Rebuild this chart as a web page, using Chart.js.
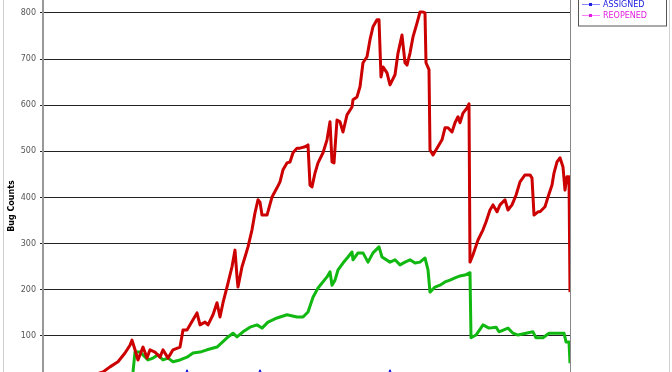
<html>
<head>
	<title>Bug Counts</title>
	<script src="https://cdn.jsdelivr.net/npm/chart.js"></script>
	<style>body { margin: 0; background: #fff; }</style>
</head>
<body>
	<canvas id="chart" width="672" height="372"></canvas>
	<script>
		// day index (from the first day on the chart) and counts
		const newDays = [0, 30, 50, 60, 67, 75, 82, 87, 89, 92, 95, 100, 104, 107, 112, 117, 120, 125, 130, 137, 140, 144, 154, 157, 162, 165, 170, 174, 177, 180, 184, 189, 192, 194, 195, 199, 202, 205, 209, 212, 215, 217, 219, 224, 229, 234, 237, 240, 244, 247, 250, 254, 257, 262, 265, 267, 269, 272, 275, 280, 284, 287, 289, 291, 294, 297, 300, 304, 309, 310, 314, 317, 320, 324, 327, 330, 334, 336, 338, 340, 344, 347, 352, 355, 359, 362, 364, 367, 370, 374, 377, 380, 382, 383, 386, 387, 390, 394, 399, 402, 405, 409, 412, 415, 417, 420, 424, 426, 427, 430, 435, 440, 443, 447, 450, 454, 457, 462, 465, 469, 473, 477, 482, 487, 489, 491, 495, 497, 502, 505, 509, 511, 514, 517, 520, 522, 524, 526, 527];
		const newCounts = [3, 8, 15, 22, 33, 44, 63, 80, 91, 70, 48, 76, 52, 70, 65, 54, 70, 52, 70, 76, 113, 113, 150, 124, 130, 124, 146, 172, 141, 172, 206, 250, 286, 228, 206, 250, 271, 293, 330, 367, 395, 390, 362, 362, 401, 421, 434, 460, 475, 477, 497, 507, 507, 510, 514, 427, 423, 453, 475, 497, 525, 564, 477, 475, 568, 564, 542, 579, 596, 612, 618, 640, 692, 705, 742, 770, 785, 785, 661, 683, 670, 644, 666, 713, 752, 692, 687, 713, 748, 778, 802, 802, 800, 692, 677, 503, 492, 507, 525, 551, 551, 542, 562, 575, 562, 583, 594, 603, 260, 276, 308, 330, 347, 373, 384, 369, 384, 395, 373, 384, 405, 434, 449, 449, 442, 362, 369, 369, 380, 401, 427, 453, 477, 486, 466, 416, 445, 445, 195];

		const unconfirmedDays = [0, 60, 89, 90, 92, 97, 100, 105, 110, 115, 120, 125, 130, 137, 144, 150, 157, 164, 174, 184, 190, 194, 200, 207, 214, 219, 225, 234, 244, 254, 260, 265, 270, 275, 284, 287, 289, 292, 295, 300, 305, 309, 310, 315, 320, 325, 330, 336, 339, 347, 352, 357, 362, 367, 372, 377, 382, 385, 387, 392, 397, 402, 407, 412, 417, 422, 427, 428, 433, 440, 446, 453, 456, 465, 470, 475, 483, 490, 493, 500, 506, 513, 521, 523, 526, 527];
		const unconfirmedCounts = [2, 4, 6, 22, 65, 65, 59, 48, 52, 59, 48, 52, 44, 48, 54, 63, 65, 70, 76, 96, 106, 98, 109, 119, 124, 117, 130, 139, 146, 141, 141, 152, 184, 204, 228, 239, 210, 221, 243, 258, 271, 282, 265, 280, 280, 260, 280, 293, 271, 260, 265, 254, 260, 265, 258, 260, 269, 243, 195, 206, 210, 217, 221, 226, 230, 232, 237, 96, 102, 124, 117, 119, 109, 117, 106, 102, 106, 109, 96, 96, 106, 106, 106, 87, 87, 41];

		const assignedDays = [0, 100, 143, 144, 145, 215, 216, 217, 218, 345, 346, 347, 348, 440, 527];
		const assignedCounts = [6, 12, 15, 25, 15, 16, 17, 25, 17, 16, 17, 25, 16, 14, 12];

		const reopenedDays = [0, 200, 400, 527];
		const reopenedCounts = [1, 3, 4, 2];

		const yTicks = [100, 200, 300, 400, 500, 600, 700, 800];

		function pairs(days, counts) {
			return days.map((d, i) => ({ x: d, y: counts[i] }));
		}

		// legend box, frame lines and the axis title
		const decorations = {
			id: 'decorations',
			afterDraw(chart) {
				const ctx = chart.ctx;
				const area = chart.chartArea;
				ctx.save();
				ctx.lineWidth = 1;
				ctx.strokeStyle = '#d0d0d0';
				ctx.beginPath();
				ctx.moveTo(3.5, 0); ctx.lineTo(3.5, 372);
				ctx.moveTo(669.5, 0); ctx.lineTo(669.5, 372);
				ctx.stroke();
				ctx.strokeStyle = '#888';
				ctx.beginPath();
				ctx.moveTo(Math.round(area.right) + 0.5, 0);
				ctx.lineTo(Math.round(area.right) + 0.5, 372);
				ctx.stroke();

				ctx.strokeStyle = '#555';
				ctx.strokeRect(578.5, -5, 88, 31);
				ctx.font = '8px "DejaVu Sans"';
				ctx.textBaseline = 'middle';
				const shown = chart.data.datasets.filter(ds => ds.legendText);
				shown.forEach((ds, i) => {
					const y = 4.5 + i * 11;
					ctx.strokeStyle = ds.legendLine;
					ctx.beginPath();
					ctx.moveTo(582, y); ctx.lineTo(600, y);
					ctx.stroke();
					ctx.fillStyle = ds.legendText;
					ctx.fillRect(589, y - 1.5, 3, 3);
					ctx.fillText(ds.label, 603, y + 0.5);
				});

				ctx.translate(12, 206);
				ctx.rotate(-Math.PI / 2);
				ctx.font = 'bold 8px "DejaVu Sans"';
				ctx.textAlign = 'center';
				ctx.fillStyle = '#000';
				ctx.fillText('Bug Counts', 0, 0);
				ctx.restore();
			}
		};

		new Chart(document.getElementById('chart'), {
			type: 'line',
			data: {
				datasets: [
					{ label: 'REOPENED', data: pairs(reopenedDays, reopenedCounts), borderColor: '#e020e0', borderWidth: 2, legendText: '#e020e0', legendLine: '#ff80ff' },
					{ label: 'ASSIGNED', data: pairs(assignedDays, assignedCounts), borderColor: '#2222dd', borderWidth: 2, legendText: '#2020e0', legendLine: '#8888ff' },
					{ label: 'UNCONFIRMED', data: pairs(unconfirmedDays, unconfirmedCounts), borderColor: '#11b811', borderWidth: 3 },
					{ label: 'NEW', data: pairs(newDays, newCounts), borderColor: '#cc0000', borderWidth: 3 }
				].reverse()
			},
			options: {
				responsive: false,
				animation: false,
				layout: { padding: { left: 0, right: 102, top: 0, bottom: 0 } },
				plugins: { legend: { display: false }, tooltip: { enabled: false } },
				elements: {
					point: { radius: 0 },
					line: { tension: 0, borderJoinStyle: 'round' }
				},
				scales: {
					x: { type: 'linear', min: 0, max: 527, display: false },
					y: {
						min: 21.9,
						max: 828,
						afterBuildTicks: s => { s.ticks = yTicks.map(v => ({ value: v })); },
						afterFit: s => { s.width = 43; s.paddingTop = 0; s.paddingBottom = 0; },
						grid: { color: '#222', lineWidth: 1, tickLength: 3, tickColor: '#222' },
						border: { color: '#999', width: 2 },
						ticks: { font: { family: 'DejaVu Sans', size: 8 }, color: '#555', padding: 4 }
					}
				}
			},
			plugins: [decorations]
		});
	</script>
</body>
</html>
